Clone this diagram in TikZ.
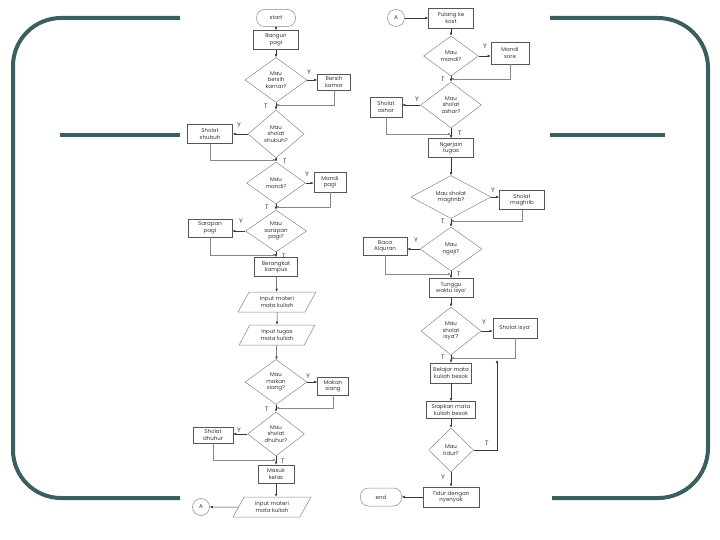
\documentclass[tikz,border=0pt]{standalone}
\usepackage{fontspec}
\setmainfont{Poppins}
\usetikzlibrary{shapes.geometric,arrows.meta}
\definecolor{frame}{RGB}{59,95,95}
\definecolor{ink}{RGB}{55,55,55}
\definecolor{soft}{RGB}{135,135,135}
\begin{document}
\begin{tikzpicture}[x=1pt,y=-1pt,
  every node/.style={font=\fontsize{5.5}{6.4}\selectfont, text=ink, align=center, inner sep=0pt},
  proc/.style n args={2}{rectangle, draw=ink!85, line width=0.6pt, minimum width=#1, minimum height=#2},
  dec/.style n args={2}{diamond, draw=soft, line width=0.5pt, minimum width=#1, minimum height=#2},
  io/.style n args={2}{trapezium, trapezium left angle=58, trapezium right angle=122, trapezium stretches=true, draw=soft, line width=0.5pt, minimum width=#1, minimum height=#2},
  term/.style n args={2}{rectangle, rounded corners=8pt, draw=soft, line width=0.5pt, minimum width=#1, minimum height=#2},
  conn/.style={circle, draw=soft, line width=0.5pt, minimum size=17pt},
  flow/.style={draw=ink, line width=0.5pt, -{Latex[length=3pt,width=2.6pt]}},
  back/.style={draw=soft, line width=0.5pt, -{Latex[length=3pt,width=2.6pt]}},
  lbl/.style={font=\fontsize{6.5}{6.5}\selectfont},
  band/.style={draw=frame, line width=4pt}]
\useasboundingbox (0,0) rectangle (720,540);

% frame decoration
\draw[band, rounded corners=48pt] (180,18) -- (13,18) -- (13,498) -- (180,498);
\draw[band, rounded corners=50pt] (550,18) -- (708,18) -- (708,498) -- (552,498);
\draw[band] (60,135) -- (180,135);
\draw[band] (550,135) -- (665,135);

% ---------------- left column ----------------
\node[term={39pt}{17pt}] (start) at (276,18) {start};
\node[proc={45pt}{19pt}] (bangun) at (276,40) {Bangun\\pagi};
\node[dec={62pt}{45pt}] (d1) at (276,80) {Mau\\bersih\\kamar?};
\node[proc={33pt}{16pt}] (bk) at (334,82) {Bersih\\kamar};
\coordinate (m1) at (276,105);
\node[dec={56pt}{48pt}] (d2) at (276,134) {Mau\\sholat\\shubuh?};
\node[proc={45pt}{19pt}] (ss) at (210,134) {Sholat\\shubuh};
\coordinate (m2) at (276,160);
\node[dec={59pt}{42pt}] (d3) at (276,183) {Mau\\mandi?};
\node[proc={32pt}{20pt}] (mp) at (330,182) {Mandi\\pagi};
\coordinate (m3) at (276,207);
\node[dec={61pt}{42pt}] (d4) at (276,231) {Mau\\sarapan\\pagi?};
\node[proc={44pt}{18pt}] (sp) at (210,228) {Sarapan\\pagi};
\coordinate (m4) at (276,255);
\node[proc={43pt}{19pt}] (brk) at (276,267) {Berangkat\\kampus};
\node[io={78pt}{20pt}] (in1) at (277,302) {Input materi\\mata kuliah};
\node[io={76pt}{20pt}] (in2) at (277,335) {Input tugas\\mata kuliah};
\node[dec={62pt}{45pt}] (d5) at (276,382) {Mau\\makan\\siang?};
\node[proc={31pt}{18pt}] (ms) at (333,386) {Makan\\siang};
\coordinate (m5) at (276,408);
\node[dec={57pt}{44pt}] (d6) at (276,434) {Mau\\sholat\\dhuhur?};
\node[proc={40pt}{16pt}] (sd) at (213,435) {Sholat\\dhuhur};
\coordinate (m6) at (276,460);
\node[proc={36pt}{18pt}] (mk) at (276,474) {Masuk\\kelas};
\node[io={78pt}{20pt}] (in3) at (272,507) {Input materi\\mata kuliah};
\node[conn] (a1) at (201,507) {A};

\draw[flow] (start) -- (bangun);
\draw[flow] (bangun) -- (d1);
\draw[flow] (d1.east) -- (bk.west |- d1.east);
\draw[back] (bk.south) |- (m1);
\draw[flow] (d1) -- (d2);
\draw[flow] (d2.west) -- (ss.east |- d2.west);
\draw[back] (ss.south) |- (m2);
\draw[flow] (d2) -- (d3);
\draw[flow] (d3.east) -- (mp.west |- d3.east);
\draw[back] (mp.south) |- (m3);
\draw[flow] (d3) -- (d4);
\draw[flow] (d4.west) -- (sp.east |- d4.west);
\draw[back] (sp.south) |- (m4);
\draw[flow] (d4) -- (brk);
\draw[flow] (brk) -- (in1);
\draw[flow] (in1) -- (in2);
\draw[flow] (in2) -- (d5);
\draw[flow] (d5.east) -- (ms.west |- d5.east);
\draw[back] (ms.south) |- (m5);
\draw[flow] (d5) -- (d6);
\draw[flow] (d6.west) -- (sd.east |- d6.west);
\draw[back] (sd.south) |- (m6);
\draw[flow] (d6) -- (mk);
\draw[flow] (mk.south) -- (mk.south |- in3.north);
\draw[flow] (in3) -- (a1);

\node[lbl] (y1) at (309,72) {Y};
\node[lbl] (t1) at (266,106) {T};
\node[lbl] (y2) at (239,125) {Y};
\node[lbl] (t2) at (285,161) {T};
\node[lbl] (y3) at (307,174) {Y};
\node[lbl] (t3) at (267,207) {T};
\node[lbl] (y4) at (241,221) {Y};
\node[lbl] (t4) at (284,256) {T};
\node[lbl] (y5) at (308,376) {Y};
\node[lbl] (t5) at (267,409) {T};
\node[lbl] (y6) at (239,430) {Y};
\node[lbl] (t6) at (283,461) {T};

% ---------------- right column ----------------
\node[conn] (a2) at (396,18) {A};
\node[proc={45pt}{20pt}] (pulang) at (451,18) {Pulang ke\\kost};
\node[dec={55pt}{40pt}] (d7) at (451,56) {Mau\\mandi?};
\node[proc={38pt}{22pt}] (msr) at (510,53) {Mandi\\sore};
\coordinate (m7) at (451,79);
\node[dec={61pt}{46pt}] (d8) at (451,105) {Mau\\sholat\\ashar?};
\node[proc={32pt}{20pt}] (sa) at (386,107) {Sholat\\ashar};
\coordinate (m8) at (451,134);
\node[proc={45pt}{19pt}] (ngr) at (451,148) {Ngerjain\\tugas};
\node[dec={80pt}{43pt}] (d9) at (451,197) {Mau sholat\\maghrib?};
\node[proc={45pt}{19pt}] (smg) at (522,200) {Sholat\\maghrib};
\coordinate (m9) at (451,221);
\node[dec={62pt}{44pt}] (d10) at (451,249) {Mau\\ngaji?};
\node[proc={44pt}{18pt}] (ba) at (385,246) {Baca\\Alquran};
\coordinate (m10) at (451,274);
\node[proc={44pt}{19pt}] (tunggu) at (451,288) {Tunggu\\waktu isya'};
\node[dec={60pt}{48pt}] (d11) at (451,331) {Mau\\sholat\\isya'?};
\node[proc={44pt}{20pt}] (si) at (515,328) {Sholat isya'};
\coordinate (m11) at (451,358);
\node[proc={41pt}{20pt}] (bel) at (451,373) {Belajar mata\\kuliah besok};
\node[proc={49pt}{17pt}] (siap) at (451,410) {Siapkan mata\\kuliah besok};
\node[dec={45pt}{44pt}] (d12) at (451,450) {Mau\\tidur?};
\coordinate (lt) at (497,360);
\node[proc={56pt}{20pt}] (tidur) at (451,497) {Tidur dengan\\nyenyak};
\node[term={41pt}{18pt}] (endn) at (381,497) {end};

\draw[flow] (a2) -- (pulang);
\draw[flow] (pulang) -- (d7);
\draw[flow] (d7.east) -- (msr.west |- d7.east);
\draw[back] (msr.south) |- (m7);
\draw[flow] (d7) -- (d8);
\draw[flow] (d8.west) -- (sa.east |- d8.west);
\draw[back] (sa.south) |- (m8);
\draw[flow] (d8) -- (ngr);
\draw[flow] (ngr) -- (d9);
\draw[flow] (d9.east) -- (smg.west |- d9.east);
\draw[back] (smg.south) |- (m9);
\draw[flow] (d9) -- (d10);
\draw[flow] (d10.west) -- (ba.east |- d10.west);
\draw[back] (ba.south) |- (m10);
\draw[flow] (d10) -- (tunggu);
\draw[flow] (tunggu) -- (d11);
\draw[flow] (d11.east) -- (si.west |- d11.east);
\draw[back] (si.south) |- (m11);
\draw[flow] (d11) -- (bel);
\draw[flow] (bel) -- (siap);
\draw[flow] (siap) -- (d12);
\draw[flow] (d12.east) -| (lt);
\draw[flow] (d12) -- (tidur);
\draw[flow] (tidur) -- (endn);

\node[lbl] (y7) at (485,46) {Y};
\node[lbl] (t7) at (443,79) {T};
\node[lbl] (y8) at (417,99) {Y};
\node[lbl] (t8) at (460,133) {T};
\node[lbl] (y9) at (493,190) {Y};
\node[lbl] (t9) at (443,221) {T};
\node[lbl] (y10) at (416,240) {Y};
\node[lbl] (t10) at (459,274) {T};
\node[lbl] (y11) at (484,322) {Y};
\node[lbl] (t11) at (443,357) {T};
\node[lbl] (t12) at (487,443) {T};
\node[lbl] (y12) at (443,477) {Y};
\end{tikzpicture}
\end{document}
